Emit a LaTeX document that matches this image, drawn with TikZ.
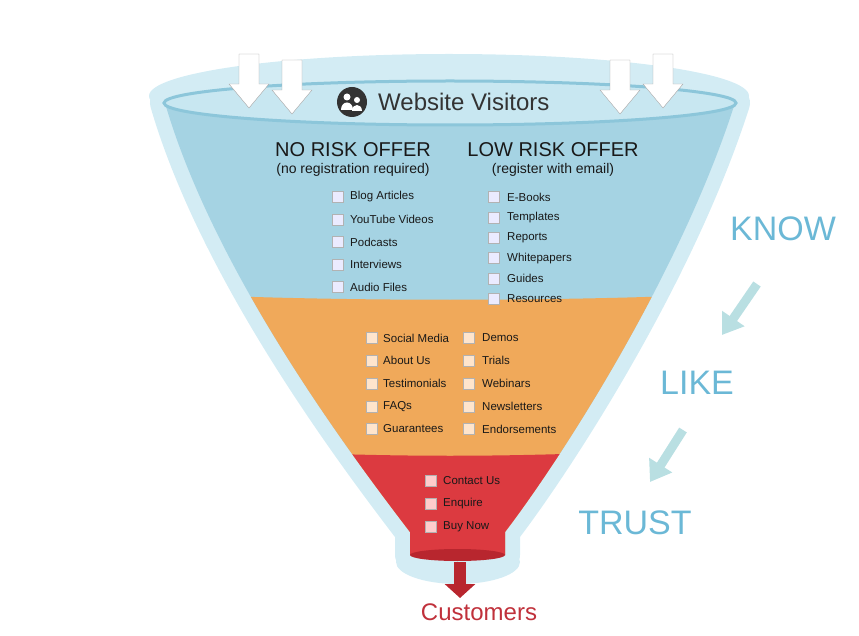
\documentclass[tikz,border=0pt]{standalone}
\usepackage{fontspec}
\setmainfont{Liberation Sans}
\usetikzlibrary{arrows.meta}
\definecolor{halo}{HTML}{D3ECF4}
\definecolor{fblue}{HTML}{A5D3E3}
\definecolor{ftop}{HTML}{C8E7F1}
\definecolor{frim}{HTML}{8CC6DA}
\definecolor{forange}{HTML}{F0A95A}
\definecolor{fred}{HTML}{DC3A40}
\definecolor{dred}{HTML}{B8262E}
\definecolor{wtxt}{HTML}{6BB8D6}
\definecolor{warr}{HTML}{B9DFE2}
\definecolor{custom}{HTML}{C0313B}
\begin{document}
\begin{tikzpicture}[x=1pt,y=-1pt,
  item/.style={anchor=west,font=\fontsize{11.5}{12}\selectfont,text=black!90,inner sep=0pt},
  box/.style={draw=black!30,fill=#1,minimum size=11pt,inner sep=0pt},
  box/.default={white!92!blue},
  head/.style={font=\fontsize{20}{22}\selectfont,text=black!90,inner sep=0pt},
  sub/.style={font=\fontsize{14}{16}\selectfont,text=black!90,inner sep=0pt},
  word/.style={font=\fontsize{34}{36}\selectfont,text=wtxt,inner sep=0pt},
  varr/.pic={\draw[black!35,fill=white,line join=round] (-10,-28) -- (10,-28) -- (10,2) -- (20,2) -- (0,26) -- (-20,2) -- (-10,2) -- cycle;},
  warrow/.style={draw=warr,line width=9pt,-{Triangle[length=20pt,width=26pt]}}]
\useasboundingbox (0,0) rectangle (859,636);
\def\funnel{(165,103) .. controls (215,275) and (355,460) .. (410,532) -- (410,555) -- (505,555) -- (505,532) .. controls (560,460) and (680,275) .. (735,103) -- cycle}
% halo
\fill[halo] (449,96) ellipse [x radius=300, y radius=42];
\draw[halo,line width=30pt,line join=round] \funnel;
\fill[halo] (458,562) ellipse [x radius=62, y radius=22];
% funnel body
\fill[fblue] \funnel;
\begin{scope}
\clip \funnel;
\fill[forange] (100,290) .. controls (300,303) and (600,303) .. (800,290) -- (800,700) -- (100,700) -- cycle;
\fill[fred] (100,443) .. controls (400,460) and (500,460) .. (800,443) -- (800,700) -- (100,700) -- cycle;
\end{scope}
\fill[dred] (457.5,555) ellipse [x radius=47.5, y radius=6];
% top ellipse
\fill[ftop,draw=frim,line width=3pt] (450,103) ellipse [x radius=286, y radius=22];
% arrows
\pic at (249,82) {varr};
\pic at (292,88) {varr};
\pic at (620,88) {varr};
\pic at (663,82) {varr};
% icon
\node[circle,fill=black!80,minimum size=30pt,inner sep=0pt] (ic) at (352,102) {};
\fill[white] (347,97) circle (3.5pt) (357,100) circle (3pt);
\fill[white] (341,110) .. controls (341,100) and (353,100) .. (353,110) -- cycle;
\fill[white] (352,111) .. controls (352,103) and (362,103) .. (362,111) -- cycle;
\node[anchor=west,font=\fontsize{24}{26}\selectfont,text=black!80,inner sep=0pt] (wv) at (378,102) {Website Visitors};
% headings
\node[head] (h1) at (353,150) {NO RISK OFFER};
\node[sub] (s1) at (353,170) {(no registration required)};
\node[head] (h2) at (553,150) {LOW RISK OFFER};
\node[sub] (s2) at (553,170) {(register with email)};
% lists
\foreach \t [count=\i] in {Blog Articles,YouTube Videos,Podcasts,Interviews,Audio Files}{
  \pgfmathsetmacro\yy{197+22.5*(\i-1)}
  \node[box] (bl\i) at (338,\yy) {};
  \node[item] (tl\i) at (350,\yy) {\t};}
\foreach \t [count=\i] in {E-Books,Templates,Reports,Whitepapers,Guides,Resources}{
  \pgfmathsetmacro\yy{197+20.4*(\i-1)}
  \node[box] (br\i) at (494,\yy) {};
  \node[item] (tr\i) at (507,\yy) {\t};}
\foreach \t [count=\i] in {Social Media,About Us,Testimonials,FAQs,Guarantees}{
  \pgfmathsetmacro\yy{338+22.75*(\i-1)}
  \node[box=white!80!orange] (ol\i) at (372,\yy) {};
  \node[item] (otl\i) at (383,\yy) {\t};}
\foreach \t [count=\i] in {Demos,Trials,Webinars,Newsletters,Endorsements}{
  \pgfmathsetmacro\yy{338+22.75*(\i-1)}
  \node[box=white!80!orange] (or\i) at (469,\yy) {};
  \node[item] (otr\i) at (482,\yy) {\t};}
\foreach \t [count=\i] in {Contact Us,Enquire,Buy Now}{
  \pgfmathsetmacro\yy{481+23*(\i-1)}
  \node[box=white!80!red] (rb\i) at (431,\yy) {};
  \node[item] (rt\i) at (443,\yy) {\t};}
% words
\node[word] (know) at (783,229) {KNOW};
\node[word] (like) at (697,383) {LIKE};
\node[word] (trust) at (635,523) {TRUST};
\coordinate (k1) at (757,284); \coordinate (k2) at (722,335);
\coordinate (l1) at (683,430); \coordinate (l2) at (650,482);
\draw[warrow] (k1) -- (k2);
\draw[warrow] (l1) -- (l2);
% customers
\coordinate (c1) at (460,562);
\coordinate (c2) at (460,598);
\node[font=\fontsize{24}{26}\selectfont,text=custom,inner sep=0pt] (cust) at (479,612) {Customers};
\draw[dred,line width=12pt,-{Triangle[length=14pt,width=30pt]}] (c1) -- (c2);
\end{tikzpicture}
\end{document}
